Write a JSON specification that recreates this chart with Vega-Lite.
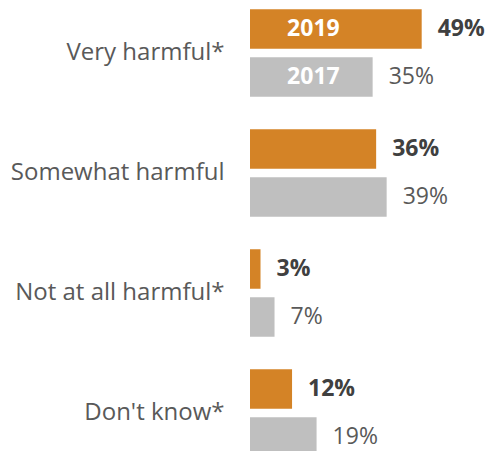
{
  "$schema": "https://vega.github.io/schema/vega-lite/v6.json",
  "autosize": "none",
  "padding": {"left": 250, "top": 0, "right": 0, "bottom": 0},
  "width": 241,
  "height": 451,
  "config": {"view": {"stroke": null}, "font": "Open Sans", "text": {"font": "Open Sans"}},
  "data": {"values": [
    {"category": "Very harmful*", "year": "2019", "value": 0.49},
    {"category": "Very harmful*", "year": "2017", "value": 0.35},
    {"category": "Somewhat harmful", "year": "2019", "value": 0.36},
    {"category": "Somewhat harmful", "year": "2017", "value": 0.39},
    {"category": "Not at all harmful*", "year": "2019", "value": 0.03},
    {"category": "Not at all harmful*", "year": "2017", "value": 0.07},
    {"category": "Don't know*", "year": "2019", "value": 0.12},
    {"category": "Don't know*", "year": "2017", "value": 0.19}
  ]},
  "encoding": {
    "y": {
      "field": "category", "type": "nominal",
      "sort": ["Very harmful*", "Somewhat harmful", "Not at all harmful*", "Don't know*"],
      "scale": {"range": [-7, 473], "paddingInner": 0, "paddingOuter": 0},
      "axis": {"title": null, "domain": false, "ticks": false, "tickSize": 0, "labelPadding": 26, "labelFontSize": 24, "labelColor": "#595959", "labelFont": "Open Sans", "labelLimit": 0}
    },
    "yOffset": {
      "field": "year", "type": "nominal", "sort": ["2019", "2017"],
      "scale": {"paddingInner": 0.177, "paddingOuter": 0.3385}
    }
  },
  "layer": [
    {
      "mark": {"type": "bar"},
      "encoding": {
        "x": {"field": "value", "type": "quantitative", "scale": {"domain": [0, 0.6878], "nice": false, "zero": true}, "axis": null},
        "color": {"field": "year", "type": "nominal", "scale": {"domain": ["2019", "2017"], "range": ["#D48326", "#BFBFBF"]}, "legend": null}
      }
    },
    {
      "transform": [{"filter": "datum.year == '2019'"}],
      "mark": {"type": "text", "align": "left", "baseline": "middle", "dx": 16, "fontSize": 23, "fontWeight": "bold", "color": "#404040"},
      "encoding": {
        "x": {"field": "value", "type": "quantitative"},
        "text": {"field": "value", "type": "quantitative", "format": ".0%"}
      }
    },
    {
      "transform": [{"filter": "datum.year == '2017'"}],
      "mark": {"type": "text", "align": "left", "baseline": "middle", "dx": 16, "fontSize": 23, "color": "#595959"},
      "encoding": {
        "x": {"field": "value", "type": "quantitative"},
        "text": {"field": "value", "type": "quantitative", "format": ".0%"}
      }
    },
    {
      "transform": [{"filter": "datum.category == 'Very harmful*'"}],
      "mark": {"type": "text", "align": "center", "baseline": "middle", "fontSize": 23, "fontWeight": "bold", "color": "white"},
      "encoding": {
        "x": {"datum": 0.181, "type": "quantitative"},
        "text": {"field": "year", "type": "nominal"}
      }
    }
  ]
}
